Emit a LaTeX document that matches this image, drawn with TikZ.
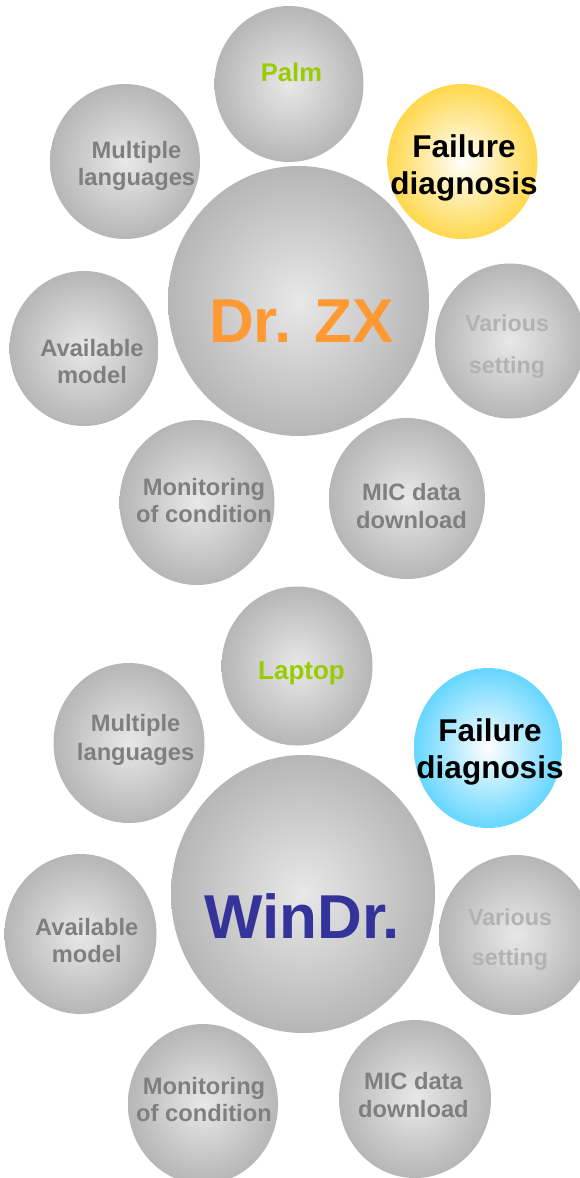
\documentclass[tikz,border=0pt]{standalone}
\usepackage{fontspec}
\setmainfont{Liberation Sans}
\usetikzlibrary{shapes.geometric}

\definecolor{ballrim}{HTML}{B6B6B6}
\definecolor{ballmid}{HTML}{E8E8E8}
\definecolor{wordgrey}{HTML}{7F7F7F}
\definecolor{palegrey}{HTML}{B2B2B2}
\definecolor{leafgreen}{HTML}{99CC00}
\definecolor{zxorange}{HTML}{FF9933}
\definecolor{winnavy}{HTML}{333399}
\definecolor{sunrim}{HTML}{FFD84D}
\definecolor{skyrim}{HTML}{66D6FF}

\begin{document}
\begin{tikzpicture}[x=1pt, y=-1pt,
  ball/.style={ellipse, inner sep=0pt, inner color=ballmid, outer color=ballrim},
  word/.style={align=center, anchor=base, text=wordgrey,
    font=\bfseries\fontsize{23.7}{27.3}\selectfont}]
\useasboundingbox (0,0) rectangle (580,1178);

% Dr. ZX group
\node [ball, minimum width=149pt, minimum height=156pt] (palm) at (289,84) {};
\node [ball, minimum width=150pt, minimum height=155pt] (langA) at (125,161.5) {};
\node [ellipse, inner sep=0pt, inner color=white, outer color=sunrim,
  minimum width=150pt, minimum height=155pt] (failA) at (462.5,161.5) {};
\node [ball, minimum width=261pt, minimum height=270pt] (drzx) at (298.5,301) {};
\node [ball, minimum width=149pt, minimum height=155pt] (availA) at (84,348.5) {};
\node [ball, minimum width=150pt, minimum height=155pt] (variousA) at (510,341) {};
\node [ball, minimum width=155pt, minimum height=165pt] (monA) at (197,502.5) {};
\node [ball, minimum width=156pt, minimum height=161pt] (micA) at (407,498.5) {};

% texts: base is the last line
\node [word, text=leafgreen, font=\bfseries\fontsize{25.6}{30}\selectfont] (palm-t) at (291.5,81.7) {Palm};
\node [word] (langA-t) at (136.5,185.6) {Multiple\\languages};
\node [word, text=black, font=\bfseries\fontsize{31.5}{36.8}\selectfont] (failA-t) at (464,194.5) {Failure\\diagnosis};
\node [word, text=zxorange, font=\bfseries\fontsize{62}{70}\selectfont] (drzx-t) at (301.5,342.3) {Dr. ZX};
\node [word] (availA-t) at (92,383.3) {Available\\model};
\node [word, text=palegrey, font=\bfseries\fontsize{23.2}{41.6}\selectfont] (variousA-t) at (507,373.3) {Various\\setting};
\node [word, font=\bfseries\fontsize{23.7}{27}\selectfont] (monA-t) at (204,522.7) {Monitoring\\of condition};
\node [word, font=\bfseries\fontsize{23.7}{28.3}\selectfont] (micA-t) at (411.5,528.3) {MIC data\\download};

% WinDr. group
\node [ball, minimum width=151pt, minimum height=159pt] (laptop) at (297,666) {};
\node [ball, minimum width=151pt, minimum height=160pt] (langB) at (129,743) {};
\node [ellipse, inner sep=0pt, inner color=white, outer color=skyrim,
  minimum width=148pt, minimum height=160pt] (failB) at (488,748) {};
\node [ball, minimum width=264pt, minimum height=278pt] (windr) at (303,894) {};
\node [ball, minimum width=152pt, minimum height=160pt] (availB) at (80.5,934) {};
\node [ball, minimum width=154pt, minimum height=160pt] (variousB) at (516,935) {};
\node [ball, minimum width=150pt, minimum height=160pt] (monB) at (203,1104) {};
\node [ball, minimum width=152pt, minimum height=158pt] (micB) at (415,1099) {};

\node [word, text=leafgreen, font=\bfseries\fontsize{26}{30}\selectfont] (laptop-t) at (301.5,679.3) {Laptop};
\node [word, font=\bfseries\fontsize{23.7}{28.3}\selectfont] (langB-t) at (135.6,760) {Multiple\\languages};
\node [word, text=black, font=\bfseries\fontsize{31.5}{37.3}\selectfont] (failB-t) at (490,778.3) {Failure\\diagnosis};
\node [word, text=winnavy, font=\bfseries\fontsize{62}{70}\selectfont] (windr-t) at (302,938.3) {WinDr.};
\node [word] (availB-t) at (86.7,962.7) {Available\\model};
\node [word, text=palegrey, font=\bfseries\fontsize{23.2}{40.7}\selectfont] (variousB-t) at (510,965.7) {Various\\setting};
\node [word, font=\bfseries\fontsize{23.7}{27}\selectfont] (monB-t) at (204,1121) {Monitoring\\of condition};
\node [word, font=\bfseries\fontsize{23.7}{28.4}\selectfont] (micB-t) at (413.4,1117.7) {MIC data\\download};
\end{tikzpicture}
\end{document}
